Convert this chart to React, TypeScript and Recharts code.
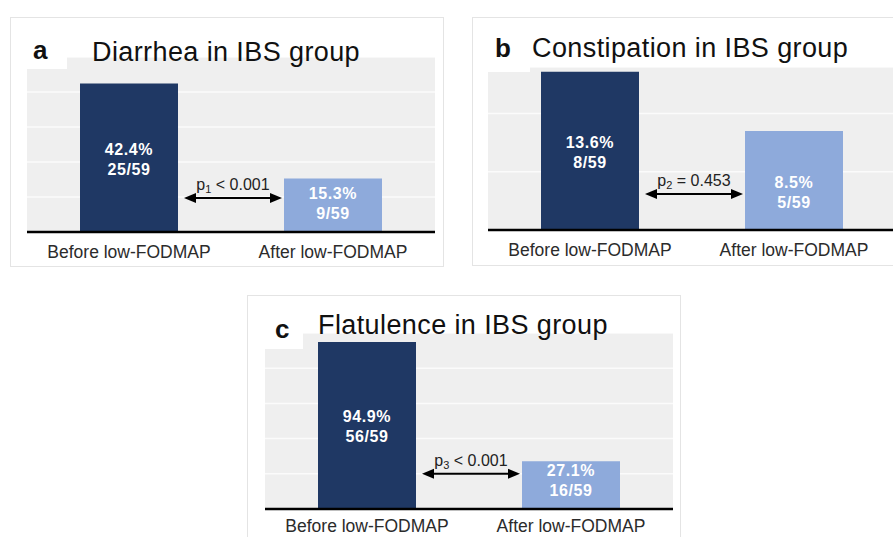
import {
  Bar,
  BarChart,
  CartesianGrid,
  LabelList,
  ReferenceLine,
  XAxis,
  YAxis,
} from "recharts";

const CATEGORIES = ["Before low-FODMAP", "After low-FODMAP"];

// share of patients with the symptom, % and n/N
const DIARRHEA_PCT = [42.4, 15.3];
const DIARRHEA_COUNTS = ["25/59", "9/59"];
const CONSTIPATION_PCT = [13.6, 8.5];
const CONSTIPATION_COUNTS = ["8/59", "5/59"];
const FLATULENCE_PCT = [94.9, 27.1];
const FLATULENCE_COUNTS = ["56/59", "16/59"];

const DIARRHEA_TICKS = [0, 10, 20, 30, 40, 50];
const CONSTIPATION_TICKS = [0, 5, 10];
const FLATULENCE_TICKS = [0, 20, 40, 60, 80, 100];

// p-value annotations: subscript, operator, value
const DIARRHEA_P = ["1", "<", "0.001"];
const CONSTIPATION_P = ["2", "=", "0.453"];
const FLATULENCE_P = ["3", "<", "0.001"];

const BEFORE_COLOR = "#1f3864";
const AFTER_COLOR = "#8eaadb";
const BAR_SIZE = 98;

type PanelProps = {
  letter: string;
  title: string;
  pct: number[];
  counts: string[];
  domainMax: number;
  ticks: number[];
  pValue: string[];
  arrowAt: number;
  box: { left: number; top: number; width: number; height: number };
  plot: { left: number; top: number; height: number };
  letterPos: { x: number; y: number };
  titlePos: { x: number; y: number };
  mask: { width: number; height: number };
  labelShift: number[];
  tickDy: number;
};

const CategoryTick = (props: any) => {
  const { x, y, payload, dy } = props;
  return (
    <text x={x} y={y + dy} textAnchor="middle" fontSize={17.5} fill="#2b2b2b">
      {payload.value}
    </text>
  );
};

const barLabel = (counts: string[], shift: number[]) => (props: any) => {
  const { x, y, width, height, value, index } = props;
  const cx = x + width / 2;
  const cy = y + height / 2 + (shift[index] ?? 0);
  return (
    <text textAnchor="middle" fill="#fff" fontWeight="bold" fontSize={16} letterSpacing={0.6}>
      <tspan x={cx} y={cy - 3}>{`${value}%`}</tspan>
      <tspan x={cx} y={cy + 17}>{counts[index]}</tspan>
    </text>
  );
};

// double-headed arrow between the two bars with the p-value above it
const compareArrow = (p: string[]) => (props: any) => {
  const { x1, y1, x2 } = props;
  const y = y1;
  const xs = x1 + BAR_SIZE / 2 + 6;
  const xe = x2 - BAR_SIZE / 2 - 2;
  const head = 12;
  const hw = 5;
  const cx = (xs + xe) / 2;
  return (
    <g>
      <line x1={xs + head - 1} y1={y} x2={xe - head + 1} y2={y} stroke="#000" strokeWidth={2} />
      <polygon points={`${xs},${y} ${xs + head},${y - hw} ${xs + head},${y + hw}`} fill="#000" />
      <polygon points={`${xe},${y} ${xe - head},${y - hw} ${xe - head},${y + hw}`} fill="#000" />
      <text x={cx} y={y - 8} textAnchor="middle" fontSize={16} fill="#222">
        p
        <tspan fontSize={11} dy={3}>{p[0]}</tspan>
        <tspan dy={-3}>{` ${p[1]} ${p[2]}`}</tspan>
      </text>
    </g>
  );
};

function Panel(props: PanelProps) {
  const { box, plot } = props;
  const data = CATEGORIES.map((name, i) => ({
    name,
    pct: props.pct[i],
    fill: i === 0 ? BEFORE_COLOR : AFTER_COLOR,
  }));
  return (
    <>
      <div
        style={{
          position: "absolute",
          left: box.left,
          top: box.top,
          width: box.width,
          height: box.height,
          border: "1px solid #e4e4e4",
          boxSizing: "border-box",
        }}
      />
      <div style={{ position: "absolute", left: plot.left, top: plot.top }}>
        <BarChart
          width={408}
          height={plot.height + 30}
          data={data}
          margin={{ top: 0, right: 0, bottom: 0, left: 0 }}
          barSize={BAR_SIZE}
        >
          <CartesianGrid vertical={false} fill="#efefef" stroke="#fbfbfb" strokeWidth={1.5} />
          <YAxis hide domain={[0, props.domainMax]} ticks={props.ticks} />
          <XAxis
            dataKey="name"
            interval={0}
            height={30}
            tickSize={0}
            tickMargin={0}
            tickLine={false}
            axisLine={{ stroke: "#000", strokeWidth: 2.5 }}
            tick={(p: any) => <CategoryTick {...p} dy={props.tickDy} />}
          />
          <Bar dataKey="pct" isAnimationActive={false}>
            <LabelList dataKey="pct" content={barLabel(props.counts, props.labelShift)} />
          </Bar>
          <ReferenceLine
            segment={[
              { x: CATEGORIES[0], y: props.arrowAt },
              { x: CATEGORIES[1], y: props.arrowAt },
            ]}
            ifOverflow="visible"
            shape={compareArrow(props.pValue)}
          />
        </BarChart>
      </div>
      <svg
        width={box.width}
        height={box.height}
        style={{ position: "absolute", left: box.left, top: box.top, overflow: "visible" }}
      >
        <rect
          x={plot.left - box.left}
          y={plot.top - box.top}
          width={props.mask.width}
          height={props.mask.height}
          fill="#fff"
        />
        <text
          x={props.letterPos.x - box.left}
          y={props.letterPos.y - box.top}
          fontSize={26}
          fontWeight="bold"
          fill="#111"
        >
          {props.letter}
        </text>
        <text
          x={props.titlePos.x - box.left}
          y={props.titlePos.y - box.top}
          fontSize={27}
          letterSpacing={0.4}
          fill="#111"
        >
          {props.title}
        </text>
      </svg>
    </>
  );
}

export default function App() {
  return (
    <div
      style={{
        position: "absolute",
        left: 0,
        top: 0,
        width: 893,
        height: 537,
        overflow: "hidden",
        background: "#fff",
        fontFamily: '"Liberation Sans", Arial, sans-serif',
      }}
    >
      <Panel
        letter="a"
        title="Diarrhea in IBS group"
        pct={DIARRHEA_PCT}
        counts={DIARRHEA_COUNTS}
        domainMax={50}
        ticks={DIARRHEA_TICKS}
        pValue={DIARRHEA_P}
        arrowAt={9.7}
        box={{ left: 10, top: 17, width: 434, height: 250 }}
        plot={{ left: 27, top: 57, height: 175 }}
        letterPos={{ x: 33, y: 59 }}
        titlePos={{ x: 92, y: 61 }}
        mask={{ width: 40, height: 12 }}
        labelShift={[0, -3]}
        tickDy={26}
      />
      <Panel
        letter="b"
        title="Constipation in IBS group"
        pct={CONSTIPATION_PCT}
        counts={CONSTIPATION_COUNTS}
        domainMax={14}
        ticks={CONSTIPATION_TICKS}
        pValue={CONSTIPATION_P}
        arrowAt={3.1}
        box={{ left: 472, top: 17, width: 440, height: 249 }}
        plot={{ left: 488, top: 67, height: 163 }}
        letterPos={{ x: 495, y: 57 }}
        titlePos={{ x: 532, y: 57 }}
        mask={{ width: 42, height: 5 }}
        labelShift={[0, 10]}
        tickDy={26}
      />
      <Panel
        letter="c"
        title="Flatulence in IBS group"
        pct={FLATULENCE_PCT}
        counts={FLATULENCE_COUNTS}
        domainMax={100}
        ticks={FLATULENCE_TICKS}
        pValue={FLATULENCE_P}
        arrowAt={20}
        box={{ left: 247, top: 295, width: 434, height: 260 }}
        plot={{ left: 265, top: 333, height: 176 }}
        letterPos={{ x: 275, y: 338 }}
        titlePos={{ x: 318, y: 334 }}
        mask={{ width: 38, height: 16 }}
        labelShift={[0, -6]}
        tickDy={23}
      />
    </div>
  );
}
